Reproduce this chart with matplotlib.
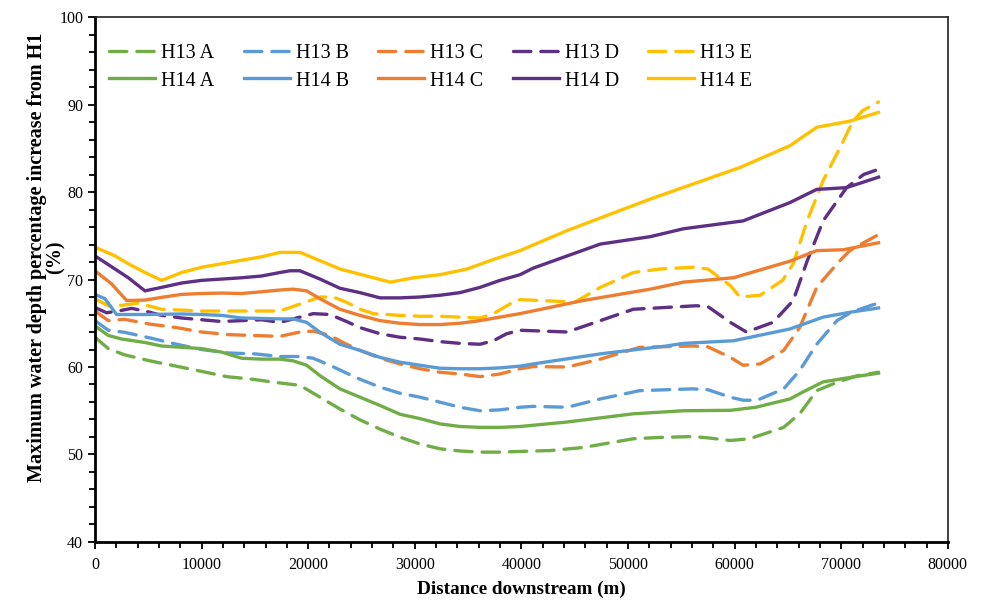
import matplotlib.pyplot as plt
from matplotlib.ticker import MultipleLocator

plt.rcParams['font.family'] = ['Liberation Serif', 'DejaVu Serif']

# distance downstream (m) and depth increase (%) per scenario
h13a_x = [0, 1250, 2750, 5160, 7600, 10000, 12350, 14760, 17200, 19230, 21110, 22980, 24860, 26740, 28610,
          30490, 32360, 34240, 36120, 37990, 39870, 42700, 45800, 50500, 53000, 56100, 57500, 59600, 61400,
          64600, 66100, 67700, 69600, 71500, 73500]
h13a_y = [63.4, 62.1, 61.4, 60.7, 60.1, 59.5, 58.9, 58.6, 58.2, 57.9, 56.55, 55.2, 53.96, 52.9, 51.98,
          51.2, 50.65, 50.4, 50.27, 50.27, 50.35, 50.45, 50.8, 51.8, 51.95, 52.05, 51.9, 51.6, 51.8,
          53.1, 54.65, 57.3, 58.25, 59.0, 59.4]

h14a_x = [0, 1250, 2500, 4690, 6250, 8130, 10000, 11880, 13760, 15630, 17350, 18600, 19860, 21110, 22980,
          24860, 26740, 28610, 30490, 32360, 34240, 36120, 37990, 39870, 44200, 50500, 55200, 59600, 62000,
          65200, 66500, 68300, 70800, 73500]
h14a_y = [64.7, 63.6, 63.2, 62.8, 62.4, 62.25, 62.1, 61.7, 61.0, 60.9, 60.9, 60.7, 60.2, 59.0, 57.5,
          56.55, 55.6, 54.6, 54.1, 53.5, 53.2, 53.1, 53.1, 53.2, 53.7, 54.65, 55.0, 55.05, 55.4,
          56.35, 57.2, 58.3, 58.8, 59.3]

h13b_x = [0, 1250, 2750, 5250, 7660, 10000, 12500, 15000, 17350, 19230, 20480, 22040, 23600, 24860, 26740,
          28610, 30490, 32360, 34240, 36120, 37990, 39870, 41100, 44300, 47400, 51100, 56100, 57500, 59600,
          60800, 62100, 64600, 66100, 67700, 69600, 71000, 72700, 73200]
h13b_y = [65.3, 64.2, 63.97, 63.3, 62.6, 62.0, 61.6, 61.5, 61.2, 61.2, 61.0, 60.2, 59.3, 58.6, 57.7,
          57.0, 56.55, 55.98, 55.4, 55.0, 55.1, 55.4, 55.5, 55.4, 56.35, 57.3, 57.5, 57.4, 56.55,
          56.2, 56.2, 57.5, 59.6, 62.6, 65.3, 66.3, 67.0, 67.2]

h14b_x = [0, 940, 2030, 4690, 8130, 10000, 11880, 13760, 15630, 17350, 18600, 19860, 21110, 22980, 24860,
          26740, 28610, 30490, 32360, 34240, 36120, 37990, 39870, 41100, 47400, 53600, 55200, 59900, 65200,
          68300, 70800, 73500]
h14b_y = [68.3, 67.8, 66.0, 66.0, 66.06, 66.0, 65.9, 65.6, 65.55, 65.5, 65.5, 65.1, 63.97, 62.6, 61.9,
          61.1, 60.55, 60.2, 59.86, 59.8, 59.8, 59.9, 60.1, 60.35, 61.5, 62.4, 62.7, 63.0, 64.35,
          65.7, 66.25, 66.75]

h13c_x = [0, 1250, 2750, 5160, 7660, 10000, 12510, 14950, 17350, 19230, 20480, 22040, 23600, 24860, 26740,
          28610, 30490, 32360, 34240, 36120, 37990, 39870, 41100, 44300, 47400, 51100, 56100, 57500, 59600,
          60800, 62400, 64600, 66100, 67700, 69600, 70800, 72700, 73300]
h13c_y = [66.4, 65.3, 65.45, 64.9, 64.5, 64.0, 63.7, 63.6, 63.5, 64.0, 64.1, 63.6, 62.6, 61.9, 61.0,
          60.35, 59.8, 59.4, 59.2, 58.9, 59.2, 59.8, 60.05, 60.0, 60.9, 62.25, 62.4, 62.3, 61.1,
          60.2, 60.35, 61.9, 64.5, 69.1, 71.8, 73.3, 74.6, 75.0]

h14c_x = [0, 1560, 2970, 4690, 6250, 8130, 10000, 11880, 13760, 15630, 17350, 18600, 19860, 21110, 22980,
          24860, 26740, 28610, 30490, 32360, 34240, 36120, 37990, 39870, 45800, 52100, 55200, 59900, 65200,
          67700, 70200, 73500]
h14c_y = [71.0, 69.5, 67.6, 67.65, 67.96, 68.3, 68.4, 68.45, 68.4, 68.6, 68.8, 68.9, 68.7, 67.8, 66.6,
          65.9, 65.3, 65.0, 64.85, 64.85, 65.0, 65.3, 65.7, 66.1, 67.6, 68.9, 69.7, 70.2, 72.1,
          73.3, 73.4, 74.2]

h13d_x = [0, 1090, 2190, 3440, 4690, 6250, 8130, 10000, 11880, 13760, 15630, 17350, 19230, 20480, 22040,
          23600, 24860, 26740, 28610, 30490, 32360, 34240, 36120, 37370, 38620, 39870, 44300, 50500, 56400,
          57500, 59600, 61100, 63600, 65500, 66800, 68300, 70500, 72100, 73500]
h13d_y = [66.8, 66.2, 66.4, 66.7, 66.4, 65.9, 65.6, 65.4, 65.2, 65.3, 65.4, 65.1, 65.7, 66.1, 66.0,
          65.2, 64.5, 63.8, 63.4, 63.2, 62.9, 62.7, 62.6, 63.0, 63.8, 64.2, 64.0, 66.6, 67.0,
          66.9, 65.1, 64.0, 65.1, 67.6, 72.1, 76.7, 80.5, 82.0, 82.6]

h14d_x = [0, 1880, 3130, 4690, 6250, 8130, 10000, 11880, 13760, 15630, 17350, 18290, 19230, 21110, 22980,
          24860, 26740, 28610, 30490, 32360, 34240, 36120, 37990, 39870, 41100, 47400, 52100, 55200, 60800,
          65200, 67700, 70500, 73500]
h14d_y = [72.7, 71.2, 70.2, 68.7, 69.1, 69.6, 69.9, 70.05, 70.2, 70.4, 70.8, 71.0, 71.0, 70.05, 69.0,
          68.5, 67.9, 67.9, 68.0, 68.2, 68.5, 69.1, 69.9, 70.55, 71.3, 74.05, 74.9, 75.8, 76.7,
          78.8, 80.3, 80.5, 81.7]

h13e_x = [0, 1250, 2190, 4060, 6250, 8130, 10000, 11880, 13760, 15630, 17350, 19230, 21110, 22350, 23600,
          24860, 26110, 28610, 30490, 32360, 34240, 36120, 37370, 38930, 39870, 43600, 45000, 47400, 50500,
          53000, 56100, 57500, 59600, 60500, 62400, 64500, 65500, 66800, 68300, 69900, 71100, 72000, 73500]
h13e_y = [67.8, 67.0, 67.0, 67.3, 66.6, 66.5, 66.4, 66.4, 66.4, 66.4, 66.4, 67.2, 68.0, 68.0, 67.4,
          66.6, 66.1, 65.9, 65.8, 65.8, 65.7, 65.6, 66.1, 67.2, 67.7, 67.5, 67.4, 69.1, 70.8,
          71.2, 71.4, 71.2, 69.3, 68.0, 68.2, 69.9, 71.8, 76.7, 81.3, 85.1, 88.1, 89.3, 90.3]

h14e_x = [0, 1880, 3130, 4690, 6250, 8130, 10000, 11880, 13760, 15630, 17350, 19230, 21110, 22980, 24860,
          27700, 29900, 32360, 34900, 37400, 39870, 44300, 52100, 60500, 65200, 67700, 70800, 73500]
h14e_y = [73.7, 72.7, 71.8, 70.8, 69.9, 70.8, 71.4, 71.8, 72.2, 72.6, 73.1, 73.1, 72.15, 71.2, 70.6,
          69.7, 70.2, 70.55, 71.2, 72.3, 73.3, 75.6, 79.2, 82.8, 85.3, 87.4, 88.1, 89.1]

letters = ['A', 'B', 'C', 'D', 'E']
colors = ['#70AD47', '#5B9BD5', '#ED7D31', '#5E2F84', '#FFC000']
h13 = [(h13a_x, h13a_y), (h13b_x, h13b_y), (h13c_x, h13c_y), (h13d_x, h13d_y), (h13e_x, h13e_y)]
h14 = [(h14a_x, h14a_y), (h14b_x, h14b_y), (h14c_x, h14c_y), (h14d_x, h14d_y), (h14e_x, h14e_y)]

fig = plt.figure(figsize=(9.86, 6.02), dpi=100)
ax = fig.add_axes([0.0963, 0.0997, 0.865, 0.8720])

handles = []
for (x, y), c, l in zip(h13, colors, letters):
    ln, = ax.plot(x, y, color=c, lw=2.4, ls=(0, (5.2, 3.0)), label='H13 ' + l,
                  solid_joinstyle='round', dash_capstyle='round')
    handles.append(ln)
for (x, y), c, l in zip(h14, colors, letters):
    ln, = ax.plot(x, y, color=c, lw=2.4, label='H14 ' + l, solid_joinstyle='round')
    handles.append(ln)

ax.set_xlim(0, 80000)
ax.set_ylim(40, 100)
ax.xaxis.set_major_locator(MultipleLocator(10000))
ax.xaxis.set_minor_locator(MultipleLocator(2000))
ax.yaxis.set_major_locator(MultipleLocator(10))
ax.yaxis.set_minor_locator(MultipleLocator(2))
ax.tick_params(which='both', direction='out', width=1.3, labelsize=11.5, color='black')
ax.tick_params(axis='x', pad=6)
ax.tick_params(which='major', length=5)
ax.tick_params(which='minor', length=4)
for s in ['left', 'bottom']:
    ax.spines[s].set_linewidth(2)
for s in ['top', 'right']:
    ax.spines[s].set_linewidth(1.2)
    ax.spines[s].set_color('#222222')

ax.set_xlabel('Distance downstream (m)', fontsize=13.8, fontweight='bold', labelpad=5)
ax.set_ylabel('Maximum water depth percentage increase from H1\n(%)', fontsize=14.5,
              fontweight='bold', linespacing=0.9)
ax.yaxis.set_label_coords(-0.034, 0.543)

# legend: H13 row on top, H14 row below
order = []
for i in range(5):
    order += [handles[i], handles[i + 5]]
ax.legend(order, [h.get_label() for h in order], ncol=5, loc='upper left', frameon=False,
          fontsize=14.5, handlelength=2.3, handletextpad=0.3, columnspacing=1.44,
          labelspacing=0.4, bbox_to_anchor=(0.0, 0.975), borderaxespad=0.3)

fig.savefig('out.png', dpi=100)
